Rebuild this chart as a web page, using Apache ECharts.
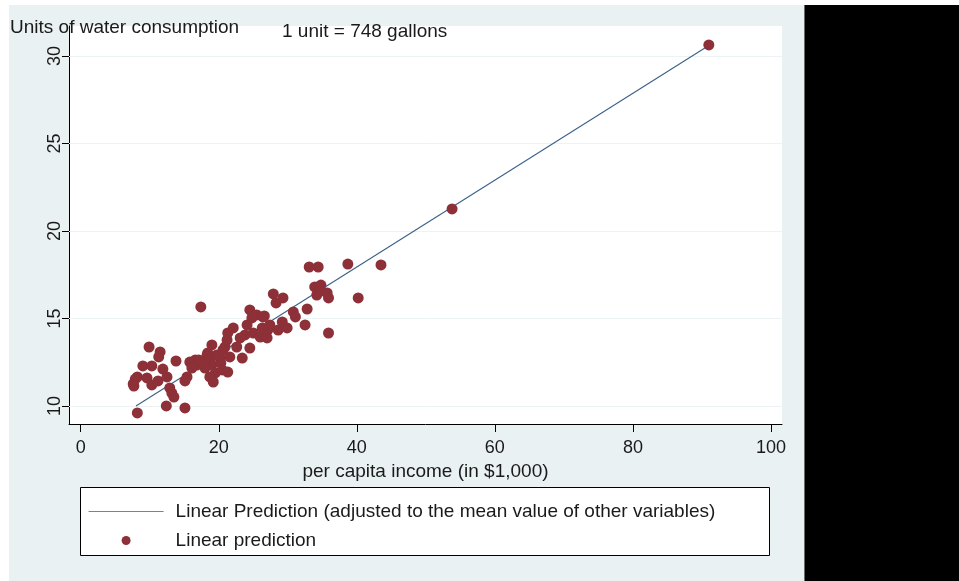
<!DOCTYPE html>
<html>
<head>
<meta charset="utf-8">
<script src="https://cdn.jsdelivr.net/npm/echarts@6/dist/echarts.min.js"></script>
<style>
  html, body { margin: 0; padding: 0; background: #ffffff; }
  #chart { width: 959px; height: 581px; }
</style>
</head>
<body>
<div id="chart"></div>
<script>
// Per capita income (in $1,000) for each observation
const income = [
  7.6, 7.9, 8.2, 7.7, 8.2, 9.0, 9.9, 10.3, 9.6, 10.3,
  11.2, 11.5, 11.3, 11.9, 12.5, 12.4, 12.9, 13.2, 13.5, 13.8,
  15.1, 15.1, 15.4, 15.8, 16.1, 16.6, 16.8, 17.4, 18.3, 18.7,
  19.0, 18.4, 19.0, 19.5, 18.7, 19.2, 20.2, 20.6, 20.9, 21.2,
  21.3, 20.3, 20.5, 22.1, 21.6, 22.6, 23.4, 21.3, 23.8, 24.1,
  24.5, 24.8, 25.5, 26.4, 25.0, 26.0, 27.0, 27.1, 24.5, 27.9,
  28.3, 29.3, 26.6, 30.8, 31.1, 32.8, 32.5, 33.1, 34.4, 33.9,
  34.8, 34.5, 35.7, 35.9, 34.2, 35.9, 38.7, 40.2, 43.5, 53.8,
  91.0, 27.4, 28.6, 29.2, 29.9, 26.3, 23.1, 19.7, 18.0, 17.7,
  17.1
];
// Linear prediction of water consumption for the same observations
const predicted = [
  11.26, 11.54, 11.66, 11.14, 9.60, 12.29, 13.37, 12.29, 11.60, 11.20,
  11.43, 13.09, 12.80, 12.11, 11.66, 10.00, 11.03, 10.74, 10.51, 12.57,
  9.89, 11.43, 11.66, 12.51, 12.17, 12.63, 12.34, 15.66, 12.91, 12.63,
  13.49, 13.03, 12.34, 11.89, 11.66, 11.37, 12.74, 13.20, 13.37, 13.77,
  14.17, 12.46, 12.06, 14.46, 12.80, 13.37, 12.74, 11.94, 14.06, 14.63,
  15.49, 15.03, 15.20, 15.09, 14.17, 13.94, 13.89, 14.34, 13.31, 16.40,
  15.89, 16.17, 15.14, 15.37, 15.09, 15.54, 14.63, 17.94, 17.94, 16.80,
  16.91, 16.51, 16.46, 16.17, 16.34, 14.17, 18.11, 16.17, 18.06, 21.26,
  30.63, 14.63, 14.34, 14.80, 14.46, 14.46, 13.89, 12.91, 12.17, 12.46,
  12.63
];
// Prediction with the other variables held at their means
const adjIncome = [8.0, 91.0];
const adjPredicted = [10.0, 30.6];

const xTicks = [0, 20, 40, 60, 80, 100];
const yTicks = [10, 15, 20, 25, 30];

const FONT = '"Liberation Sans", Arial, sans-serif';
const INK = '#1a1a1a';
const LINE_NAME = 'Linear Prediction (adjusted to the mean value of other variables)';
const DOT_NAME = 'Linear prediction';

const scatterData = income.map((x, i) => [x, predicted[i]]);
const lineData = adjIncome.map((x, i) => [x, adjPredicted[i]]);

const chart = echarts.init(document.getElementById('chart'), null, { renderer: 'canvas' });

chart.setOption({
  animation: false,
  backgroundColor: '#ffffff',
  textStyle: { fontFamily: FONT, color: INK },
  graphic: [
    // graph region and the dark panel beside it
    { type: 'rect', z: -10, shape: { x: 9, y: 5, width: 795, height: 576 }, style: { fill: '#eaf1f3' } },
    { type: 'rect', z: -10, shape: { x: 804, y: 5, width: 155, height: 576 }, style: { fill: '#000000' } },
    { type: 'line', z: -9, shape: { x1: 804.5, y1: 5, x2: 804.5, y2: 581 }, style: { stroke: '#6b6b6b', lineWidth: 1 } },
    // legend frame
    { type: 'rect', z: 5, shape: { x: 80.5, y: 487.5, width: 689, height: 68 }, style: { fill: '#ffffff', stroke: '#000000', lineWidth: 1 } }
  ],
  title: [
    { text: 'Units of water consumption', left: 10, top: 18, padding: 0,
      textStyle: { fontFamily: FONT, fontSize: 19, fontWeight: 'normal', color: INK } },
    { text: '1 unit = 748 gallons', left: 282, top: 22, padding: 0,
      textStyle: { fontFamily: FONT, fontSize: 19, fontWeight: 'normal', color: INK } }
  ],
  grid: {
    left: 69, right: 177, top: 26, bottom: 157,
    show: true, backgroundColor: '#ffffff', borderWidth: 0
  },
  xAxis: {
    type: 'value',
    min: -1.7, max: 101.6,
    name: 'per capita income (in $1,000)',
    nameLocation: 'middle', nameGap: 35,
    nameTextStyle: { fontFamily: FONT, fontSize: 19, color: INK },
    axisLine: { show: true, onZero: false, lineStyle: { color: '#000', width: 1 } },
    axisTick: { show: true, length: 8, customValues: xTicks, lineStyle: { color: '#000' } },
    axisLabel: { customValues: xTicks, fontFamily: FONT, fontSize: 18, color: INK, margin: 15 },
    splitLine: { show: false }
  },
  yAxis: {
    type: 'value',
    min: 8.97, max: 31.71,
    axisLine: { show: true, onZero: false, lineStyle: { color: '#000', width: 1 } },
    axisTick: { show: true, length: 7, customValues: yTicks, lineStyle: { color: '#000' } },
    axisLabel: { customValues: yTicks, rotate: 90, fontFamily: FONT, fontSize: 18, color: INK, margin: 5 },
    splitLine: { show: false }
  },
  legend: {
    orient: 'vertical',
    left: 88, top: 502,
    itemWidth: 75, itemHeight: 9, itemGap: 10,
    padding: 0,
    textStyle: { fontFamily: FONT, fontSize: 19, color: INK, padding: [0, 0, 0, 7] },
    data: [
      { name: LINE_NAME,
        lineStyle: { color: '#6a86a2', width: 1.2 },
        itemStyle: { color: 'rgba(0,0,0,0)', borderWidth: 0 } },
      { name: DOT_NAME, icon: 'circle' }
    ],
    z: 10
  },
  series: [
    {
      name: LINE_NAME,
      type: 'line',
      data: lineData,
      symbol: 'none',
      lineStyle: { color: '#3a6188', width: 1.1 },
      itemStyle: { color: '#3a6188' },
      z: 3,
      markLine: {
        silent: true, symbol: 'none', label: { show: false },
        lineStyle: { color: '#edf2f5', type: 'solid', width: 1 },
        data: yTicks.map(v => ({ yAxis: v })),
        z: 1
      }
    },
    {
      name: DOT_NAME,
      type: 'scatter',
      data: scatterData,
      symbol: 'circle',
      symbolSize: 11,
      itemStyle: { color: '#8d3038', opacity: 1 },
      z: 4
    }
  ]
});
</script>
</body>
</html>
